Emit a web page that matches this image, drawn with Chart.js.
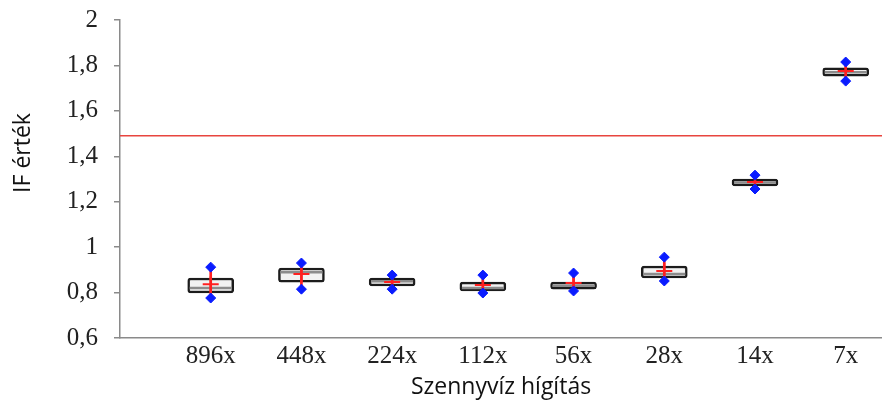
<!DOCTYPE html>
<html>
<head>
<meta charset="utf-8">
<script src="https://cdn.jsdelivr.net/npm/chart.js@4.4.1/dist/chart.umd.min.js"></script>
<style>
  html, body { margin: 0; padding: 0; background: #fff; overflow: hidden; }
  #wrap { position: absolute; left: 0; top: 0; width: 882px; height: 405px; }
</style>
</head>
<body>
<div id="wrap"><canvas id="boxChart"></canvas></div>
<script>
// Adatok (leolvasva az ábráról)
const categories = ['896x', '448x', '224x', '112x', '56x', '28x', '14x', '7x'];
const minimum = [0.776, 0.815, 0.815, 0.798, 0.807, 0.851, 1.256, 1.731];
const q1      = [0.798, 0.846, 0.829, 0.807, 0.815, 0.864, 1.269, 1.753];
const median  = [0.820, 0.890, 0.850, 0.820, 0.830, 0.882, 1.285, 1.770];
const q3      = [0.864, 0.908, 0.864, 0.846, 0.846, 0.917, 1.300, 1.789];
const maximum = [0.912, 0.930, 0.877, 0.877, 0.886, 0.956, 1.317, 1.815];
const mean    = [0.837, 0.882, 0.846, 0.833, 0.842, 0.895, 1.287, 1.775];
const limitValue = 1.49;
const yTicks = [0.6, 0.8, 1, 1.2, 1.4, 1.6, 1.8, 2];

const X_MAX = 8.4;
const serif = '"Liberation Serif", "Times New Roman", serif';
const sans = '"Open Sans", "Noto Sans", sans-serif';

const pos = (arr) => arr.map((v, i) => ({ x: i + 1, y: v }));
const range = (lo, hi) => lo.map((v, i) => ({ x: i + 1, y: [v, hi[i]] }));

// y tengely felirata (nem középen van az eredetin)
const yTitlePlugin = {
    id: 'yTitle',
    afterDraw(chart) {
        const ctx = chart.ctx;
        ctx.save();
        ctx.translate(23, 153);
        ctx.rotate(-Math.PI / 2);
        ctx.font = '23px ' + sans;
        ctx.fillStyle = '#111';
        ctx.textAlign = 'center';
        ctx.textBaseline = 'middle';
        ctx.fillText('IF érték', 0, 0);
        ctx.restore();
    }
};

new Chart(document.getElementById('boxChart'), {
    type: 'bar',
    data: {
        datasets: [
            {
                type: 'scatter',
                label: 'min/max',
                data: pos(minimum).concat(pos(maximum)),
                pointStyle: 'rectRot',
                pointRadius: 5,
                backgroundColor: '#0a1cff',
                borderColor: '#0a1cff',
                borderWidth: 1,
                order: 0
            },
            {
                type: 'scatter',
                label: 'átlag',
                data: pos(mean),
                pointStyle: 'cross',
                pointRadius: 8,
                borderColor: '#ff2020',
                borderWidth: 2,
                order: 1
            },
            {
                type: 'bar',
                label: 'bajusz',
                data: range(minimum, maximum),
                barThickness: 2,
                backgroundColor: '#ff2020',
                grouped: false,
                order: 2
            },
            {
                type: 'scatter',
                label: 'medián',
                data: pos(median),
                pointStyle: 'line',
                pointRadius: 21,
                borderColor: '#8c8c8c',
                borderWidth: 2.5,
                order: 3
            },
            {
                type: 'bar',
                label: 'doboz',
                data: range(q1, q3),
                barThickness: 46,
                backgroundColor: '#f2f2f2',
                borderColor: '#1c1c1c',
                borderWidth: 2.5,
                borderRadius: 3,
                borderSkipped: false,
                grouped: false,
                order: 4
            },
            {
                type: 'line',
                label: 'határérték',
                data: [{ x: 0, y: limitValue }, { x: X_MAX, y: limitValue }],
                borderColor: '#e8453f',
                borderWidth: 1.5,
                pointRadius: 0,
                order: 5
            }
        ]
    },
    options: {
        responsive: true,
        maintainAspectRatio: false,
        animation: false,
        layout: {
            autoPadding: false,
            padding: { top: 20, right: 0, left: 0, bottom: 0 }
        },
        plugins: {
            legend: { display: false },
            tooltip: { enabled: false }
        },
        scales: {
            x: {
                type: 'linear',
                offset: false,
                min: 0,
                max: X_MAX,
                afterBuildTicks: (scale) => {
                    scale.ticks = categories.map((c, i) => ({ value: i + 1 }));
                },
                afterFit: (scale) => {
                    scale.height = 67;
                    scale.paddingLeft = 0;
                    scale.paddingRight = 0;
                },
                grid: { display: false, drawTicks: false },
                border: { display: true, color: '#8a8a8a', width: 1.5 },
                ticks: {
                    autoSkip: false,
                    maxRotation: 0,
                    padding: 3,
                    color: '#222',
                    font: { family: serif, size: 25 },
                    callback: (v) => categories[v - 1] || ''
                },
                title: {
                    display: true,
                    text: 'Szennyvíz hígítás',
                    color: '#111',
                    font: { family: sans, size: 23 },
                    padding: { top: 0, bottom: 4 }
                }
            },
            y: {
                type: 'linear',
                min: 0.6,
                max: 2,
                afterBuildTicks: (scale) => {
                    scale.ticks = yTicks.map(v => ({ value: v }));
                },
                afterFit: (scale) => {
                    scale.width = 120;
                    scale.paddingTop = 0;
                    scale.paddingBottom = 0;
                },
                grid: {
                    drawOnChartArea: false,
                    drawTicks: true,
                    tickLength: 6,
                    color: '#8a8a8a',
                    lineWidth: 1.5
                },
                border: { display: true, color: '#8a8a8a', width: 1.5 },
                ticks: {
                    padding: 16,
                    color: '#222',
                    font: { family: serif, size: 25 },
                    callback: (v) => String(Math.round(v * 10) / 10).replace('.', ',')
                }
            }
        }
    },
    plugins: [yTitlePlugin]
});
</script>
</body>
</html>
